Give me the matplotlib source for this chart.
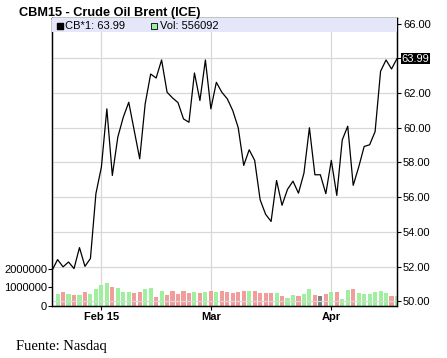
import numpy as np
import matplotlib
matplotlib.use("Agg")
import matplotlib.pyplot as plt
import matplotlib.transforms as mtransforms
from matplotlib.patches import Rectangle

plt.rcParams['font.family'] = ['Liberation Sans', 'DejaVu Sans']

# daily close, CB*1 (trading-day index 0..63)
close = [51.78, 52.40, 51.98, 52.26, 51.88, 53.09, 52.01, 52.46, 56.20, 57.73,
         61.09, 57.25, 59.46, 60.61, 61.47, 59.84, 58.21, 61.38, 63.10, 62.87,
         63.91, 62.05, 61.72, 61.45, 60.51, 60.32, 63.16, 61.57, 63.91, 61.09,
         62.62, 62.05, 61.67, 60.99, 60.00, 57.83, 58.73, 58.12, 55.85, 55.01,
         54.60, 56.96, 55.53, 56.45, 56.92, 56.23, 57.38, 60.00, 57.29, 57.29,
         56.20, 58.12, 56.10, 59.30, 60.09, 56.68, 57.73, 58.92, 59.02, 59.78,
         63.26, 63.91, 63.39, 63.99]

# volume for days 1..63
volume = [660000, 750000, 660000, 580000, 580000, 750000, 660000, 910000, 1130000, 1240000,
          1020000, 970000, 750000, 750000, 690000, 750000, 910000, 970000, 470000, 800000,
          580000, 800000, 640000, 800000, 690000, 750000, 690000, 750000, 800000, 750000,
          790000, 750000, 680000, 740000, 780000, 800000, 800000, 690000, 710000, 690000,
          690000, 540000, 420000, 580000, 540000, 650000, 910000, 580000, 530000, 640000,
          760000, 760000, 360000, 860000, 910000, 690000, 620000, 660000, 730000, 780000,
          690000, 540000, 556092]

month_pos = [9, 29, 51]
month_labels = ["Feb 15", "Mar", "Apr"]
price_ticks = [50, 52, 54, 56, 58, 60, 62, 64, 66]
vol_ticks = [0, 1000000, 2000000]

GREEN = '#9ef09e'
RED = '#f29c9c'
GRAY = '#808080'
GRID = '#d8d8d8'

close = np.array(close)
xc = np.arange(len(close))
xv = np.arange(1, len(volume) + 1)
diff = close[1:] - close[:-1]
bar_colors = [GREEN if d > 0 else (RED if d < 0 else GRAY) for d in diff]

fig = plt.figure(figsize=(4.47, 3.58), dpi=100)
ax = fig.add_axes([52 / 447, 1 - 305.7 / 358, 345 / 447, 287.7 / 358])
ax2 = ax.twinx()

# volume bars (left scale)
ax.bar(xv, volume, width=0.75, color=bar_colors, linewidth=0, zorder=2)
ax.set_ylim(0, 15.72e6)
ax.set_xlim(-0.02, 63.0)
ax.set_yticks(vol_ticks)
ax.set_yticklabels([str(v) for v in vol_ticks])
ax.set_xticks(month_pos)
ax.set_xticklabels(month_labels, fontweight='bold')
ax.xaxis.grid(True, color=GRID, linewidth=0.9, zorder=0)
ax.set_axisbelow(True)

# price line (right scale)
ax2.plot(xc, close, color='black', linewidth=0.9, zorder=3)
ax2.set_ylim(49.74, 66.33)
ax2.set_yticks(price_ticks)
ax2.set_yticklabels(['' if t == 64 else '%.2f' % t for t in price_ticks])
for t in price_ticks:
    ax2.axhline(t, color=GRID, linewidth=0.9, zorder=0)

for a in (ax, ax2):
    for s in a.spines.values():
        s.set_color('black')
        s.set_linewidth(0.9)
ax.tick_params(axis='y', labelsize=8, length=3, width=0.8, pad=0.5)
ax.tick_params(axis='x', labelsize=8, length=3, width=0.8, pad=1.5)
ax2.tick_params(axis='y', labelsize=8, length=3, width=0.8, pad=1.3)

# legend band at top of plot
ax2.add_patch(Rectangle((0, 1 - 13.7 / 287.7), 1, 13.7 / 287.7, transform=ax2.transAxes,
                        facecolor='#e6e6fa', edgecolor='none', zorder=5))
ax2.scatter([0.0223], [0.972], marker='s', s=15, color='black', transform=ax2.transAxes,
            zorder=6, clip_on=False)
ax2.text(0.038, 0.972, 'CB*1: %.2f' % close[-1], transform=ax2.transAxes, fontsize=8,
         va='center', ha='left', zorder=6)
ax2.scatter([0.2965], [0.972], marker='s', s=15, color=GREEN, edgecolor='black',
            linewidth=0.6, transform=ax2.transAxes, zorder=6, clip_on=False)
ax2.text(0.314, 0.972, 'Vol: %d' % volume[-1], transform=ax2.transAxes, fontsize=8,
         va='center', ha='left', zorder=6)

# last price marker on right axis
trans = mtransforms.blended_transform_factory(ax2.transAxes, ax2.transData)
ax2.text(1.014, close[-1], '%.2f' % close[-1], transform=trans, fontsize=8, color='white',
         va='center', ha='left', clip_on=False, zorder=7,
         bbox=dict(facecolor='black', edgecolor='none', pad=0.6))

fig.text(19 / 447, 1 - 16 / 358, 'CBM15 - Crude Oil Brent (ICE)', fontsize=9.2,
         fontweight='bold', ha='left', va='baseline')
fig.text(16 / 447, 8 / 358, 'Fuente: Nasdaq', fontsize=10.5, family='Liberation Serif',
         ha='left', va='baseline')

fig.savefig('out.png', dpi=100)
